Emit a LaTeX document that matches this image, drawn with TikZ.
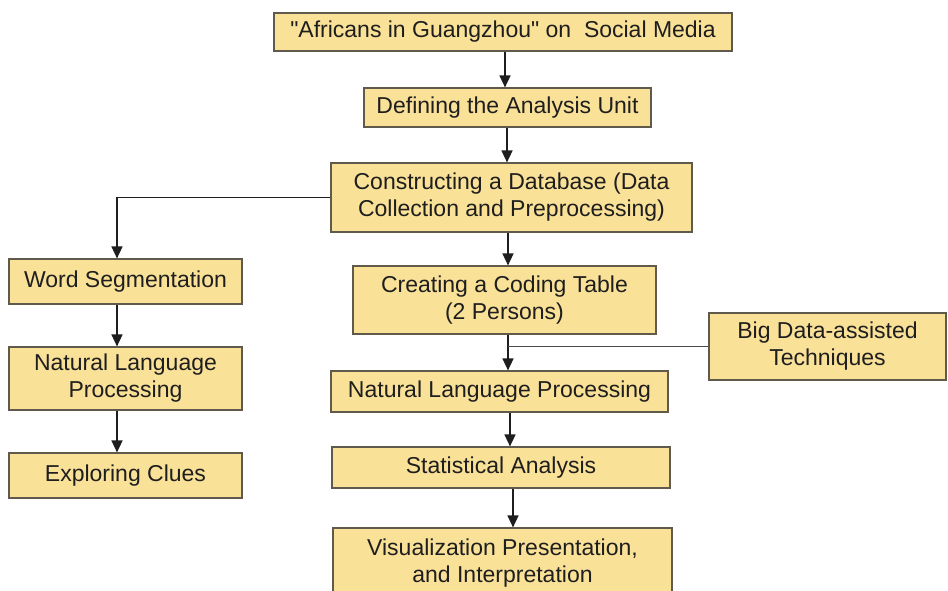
\documentclass[tikz,border=0pt]{standalone}
\usepackage{fontspec}
\setmainfont{Liberation Sans}[Ligatures=TeXOff]
\usetikzlibrary{arrows.meta}
\definecolor{boxfill}{RGB}{250,225,152}
\definecolor{boxline}{RGB}{95,90,75}
\definecolor{inkcol}{RGB}{30,30,30}
\tikzset{
  flowbox/.style={draw=boxline, line width=1.2pt, fill=boxfill, inner sep=0pt,
    align=center, text=inkcol, font=\fontsize{23}{27}\selectfont},
  arr/.style={draw=inkcol, line width=1.5pt, -{Triangle[length=12pt,width=11pt]}},
  plain/.style={draw=inkcol!80, line width=1.2pt}
}
\begin{document}
\begin{tikzpicture}[x=1pt, y=-1pt]
\useasboundingbox (0,0) rectangle (948,590);
\clip (0,0) rectangle (948,590);
\fill[white] (0,0) rectangle (948,590);

% main column
\node[flowbox, minimum width=458pt, minimum height=38pt] (src) at (503,32) {"Africans in Guangzhou" on\ \ Social Media};
\node[flowbox, minimum width=287pt, minimum height=39pt] (unit) at (507.5,107.5) {Defining the Analysis Unit};
\node[flowbox, minimum width=361pt, minimum height=69pt] (db) at (511.5,197.5) {Constructing a Database (Data\\Collection and Preprocessing)};
\node[flowbox, minimum width=303pt, minimum height=68pt] (code) at (504.5,300) {Creating a Coding Table\\(2 Persons)};
\node[flowbox, minimum width=237pt, minimum height=67pt] (big) at (827.5,346.5) {Big Data-assisted\\Techniques};
\node[flowbox, minimum width=337pt, minimum height=41pt] (nlp) at (499.5,391.5) {Natural Language Processing};
\node[flowbox, minimum width=338pt, minimum height=41pt] (stat) at (501,467.5) {Statistical Analysis};
\node[flowbox, minimum width=339pt, minimum height=70pt] (viz) at (502.5,563) {Visualization Presentation,\\and Interpretation};

% left column
\node[flowbox, minimum width=233pt, minimum height=45pt] (seg) at (125.5,281.5) {Word Segmentation};
\node[flowbox, minimum width=233pt, minimum height=63pt] (lnlp) at (125.5,378.5) {Natural Language\\Processing};
\node[flowbox, minimum width=233pt, minimum height=45pt] (clue) at (125.5,475.5) {Exploring Clues};

% connectors
\draw[arr] (505,0 |- src.south) -- (505,0 |- unit.north);
\draw[arr] (507,0 |- unit.south) -- (507,0 |- db.north);
\draw[arr] (508,0 |- db.south) -- (508,0 |- code.north);
\draw[arr] (508,0 |- code.south) -- (508,0 |- nlp.north);
\draw[plain] (big.west) -- (508,0 |- big.west);
\draw[arr] (510,0 |- nlp.south) -- (510,0 |- stat.north);
\draw[arr] (513,0 |- stat.south) -- (513,0 |- viz.north);
\draw[arr] (db.west) -| (117,0 |- seg.north);
\draw[arr] (117,0 |- seg.south) -- (117,0 |- lnlp.north);
\draw[arr] (117,0 |- lnlp.south) -- (117,0 |- clue.north);
\end{tikzpicture}
\end{document}
